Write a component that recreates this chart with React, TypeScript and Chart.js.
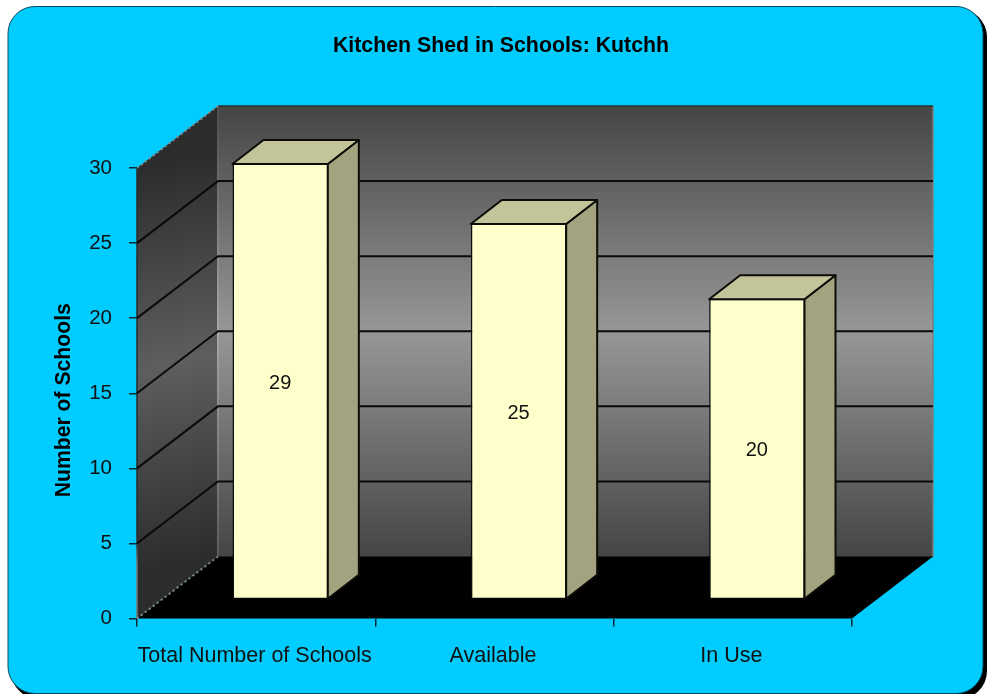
import React, { useEffect, useRef } from "react";
import { Chart, registerables } from "chart.js";

Chart.register(...registerables);

const chartTitle = "Kitchen Shed in Schools: Kutchh";
const yAxisTitle = "Number of Schools";
const categories = ["Total Number of Schools", "Available", "In Use"];
const schoolCounts = [29, 25, 20];

const FONT = '"Liberation Sans", Arial, sans-serif';
const WALL = { dx: 81, dy: 62 };
const BAR_SHIFT = { dx: 24, dy: 19 };
const BAR_DEPTH = { dx: 31, dy: 24 };

function roundRectPath(ctx: CanvasRenderingContext2D, x: number, y: number, w: number, h: number, r: number) {
  ctx.beginPath();
  ctx.roundRect(x, y, w, h, r);
}

const scene = {
  id: "scene3d",
  afterLayout(chart: any) {
    // centre the title on the whole panel rather than on the padded box
    if (chart.titleBlock) {
      chart.titleBlock.left = 0;
      chart.titleBlock.right = 1002;
    }
    // the axis title sits a little below the middle of the axis
    const ys = chart.scales.y;
    if (ys && !ys.__patched) {
      const orig = ys.drawTitle;
      ys.drawTitle = function () {
        this.ctx.save();
        this.ctx.translate(0, 7);
        orig.call(this);
        this.ctx.restore();
      };
      ys.__patched = true;
    }
  },
  beforeDraw(chart: any) {
    const { ctx, scales } = chart;
    const xs = scales.x;
    const ys = scales.y;
    const L = xs.left, R = xs.right;
    const y0 = ys.getPixelForValue(0);
    const yT = ys.getPixelForValue(30);

    ctx.save();
    ctx.fillStyle = "#ffffff";
    ctx.fillRect(0, 0, chart.width, chart.height);
    roundRectPath(ctx, 11, 9, 976, 690, 28);
    ctx.fillStyle = "#000000";
    ctx.fill();
    roundRectPath(ctx, 8, 6.5, 975, 687, 27);
    ctx.fillStyle = "#00CCFF";
    ctx.fill();
    ctx.lineWidth = 1;
    ctx.strokeStyle = "#0b4a5e";
    ctx.stroke();

    // back wall
    const backL = L + WALL.dx, backR = R + WALL.dx;
    const backT = yT - WALL.dy, backB = y0 - WALL.dy;
    const g = ctx.createLinearGradient(0, backT, 0, backB);
    g.addColorStop(0, "#454545");
    g.addColorStop(0.5, "#979797");
    g.addColorStop(1, "#454545");
    ctx.fillStyle = g;
    ctx.fillRect(backL, backT, backR - backL, backB - backT + 1);
    ctx.strokeStyle = "#7d7d7d";
    ctx.lineWidth = 1.5;
    ctx.beginPath();
    ctx.moveTo(backR, backT);
    ctx.lineTo(backR, backB);
    ctx.stroke();
    ctx.strokeStyle = "#2e2e2e";
    ctx.beginPath();
    ctx.moveTo(backL, backT);
    ctx.lineTo(backR, backT);
    ctx.stroke();

    // side wall
    const sg = ctx.createLinearGradient(L, yT, backL, y0 - WALL.dy);
    sg.addColorStop(0, "#2c2c2c");
    sg.addColorStop(0.5, "#5e5e5e");
    sg.addColorStop(1, "#2c2c2c");
    ctx.fillStyle = sg;
    ctx.beginPath();
    ctx.moveTo(L, yT);
    ctx.lineTo(backL, backT);
    ctx.lineTo(backL, backB);
    ctx.lineTo(L, y0);
    ctx.closePath();
    ctx.fill();
    const strip = ctx.createLinearGradient(0, backT, 0, backB);
    strip.addColorStop(0, "#4c4c4c");
    strip.addColorStop(0.5, "#a8a8a8");
    strip.addColorStop(1, "#5c5c5c");
    ctx.strokeStyle = strip;
    ctx.lineWidth = 2;
    ctx.beginPath();
    ctx.moveTo(backL, backT);
    ctx.lineTo(backL, backB);
    ctx.stroke();
    const edge = ctx.createLinearGradient(0, yT, 0, y0);
    edge.addColorStop(0, "#2a2a2a");
    edge.addColorStop(0.82, "#2a2a2a");
    edge.addColorStop(0.88, "#777777");
    edge.addColorStop(1, "#777777");
    ctx.strokeStyle = edge;
    ctx.lineWidth = 1.5;
    ctx.beginPath();
    ctx.moveTo(L, yT);
    ctx.lineTo(L, y0);
    ctx.stroke();

    // floor
    ctx.fillStyle = "#000000";
    ctx.beginPath();
    ctx.moveTo(L, y0);
    ctx.lineTo(R, y0);
    ctx.lineTo(backR, backB);
    ctx.lineTo(backL, backB);
    ctx.closePath();
    ctx.fill();

    // gridlines
    ctx.strokeStyle = "#0a0a0a";
    ctx.lineWidth = 2;
    for (const t of ys.ticks) {
      if (t.value === 0 || t.value === 30) continue;
      const py = ys.getPixelForValue(t.value);
      ctx.beginPath();
      ctx.moveTo(L, py);
      ctx.lineTo(backL, py - WALL.dy);
      ctx.lineTo(backR, py - WALL.dy);
      ctx.stroke();
    }

    // dotted wall edges
    ctx.strokeStyle = "#8a8a8a";
    ctx.lineWidth = 2;
    ctx.setLineDash([2, 3]);
    ctx.beginPath();
    ctx.moveTo(L, yT);
    ctx.lineTo(backL, backT);
    ctx.moveTo(L, y0);
    ctx.lineTo(backL, backB);
    ctx.stroke();
    ctx.restore();
  },
  beforeDatasetDraw(chart: any) {
    chart.ctx.save();
    chart.ctx.translate(BAR_SHIFT.dx, -BAR_SHIFT.dy);
  },
  afterDatasetDraw(chart: any) {
    const { ctx } = chart;
    const meta = chart.getDatasetMeta(0);
    ctx.lineWidth = 2;
    ctx.lineJoin = "round";
    ctx.strokeStyle = "#0c0c08";
    for (const el of meta.data) {
      const l = el.x - el.width / 2;
      const r = el.x + el.width / 2;
      const t = el.y;
      const b = el.base;
      ctx.fillStyle = "#A3A37F";
      ctx.beginPath();
      ctx.moveTo(r, t);
      ctx.lineTo(r + BAR_DEPTH.dx, t - BAR_DEPTH.dy);
      ctx.lineTo(r + BAR_DEPTH.dx, b - BAR_DEPTH.dy);
      ctx.lineTo(r, b);
      ctx.closePath();
      ctx.fill();
      ctx.stroke();
      ctx.fillStyle = "#C4C49B";
      ctx.beginPath();
      ctx.moveTo(l, t);
      ctx.lineTo(l + BAR_DEPTH.dx, t - BAR_DEPTH.dy);
      ctx.lineTo(r + BAR_DEPTH.dx, t - BAR_DEPTH.dy);
      ctx.lineTo(r, t);
      ctx.closePath();
      ctx.fill();
      ctx.stroke();
    }
    ctx.restore();
  },
  afterDatasetsDraw(chart: any) {
    const { ctx } = chart;
    const meta = chart.getDatasetMeta(0);
    ctx.save();
    ctx.fillStyle = "#111111";
    ctx.font = `20px ${FONT}`;
    ctx.textAlign = "center";
    ctx.textBaseline = "middle";
    meta.data.forEach((el: any, i: number) => {
      const cy = (el.y + el.base) / 2 - BAR_SHIFT.dy;
      ctx.fillText(String(schoolCounts[i]), el.x + BAR_SHIFT.dx, cy + 2);
    });
    ctx.restore();
  },
};

export default function App() {
  const ref = useRef<HTMLCanvasElement | null>(null);
  useEffect(() => {
    document.body.style.margin = "0";
    const chart = new Chart(ref.current as HTMLCanvasElement, {
      type: "bar",
      data: {
        labels: categories,
        datasets: [
          {
            data: schoolCounts,
            backgroundColor: "#FFFFCC",
            borderColor: "#0c0c08",
            borderWidth: { top: 1, left: 1.5, right: 1, bottom: 1 },
            borderSkipped: false,
            barPercentage: 0.4,
            categoryPercentage: 1,
          },
        ],
      },
      options: {
        responsive: false,
        animation: false,
        devicePixelRatio: 1,
        events: [],
        layout: { padding: { left: 0, top: 0, right: 136, bottom: 0 } },
        plugins: {
          legend: { display: false },
          tooltip: { enabled: false },
          title: {
            display: true,
            text: chartTitle,
            color: "#000000",
            font: { family: FONT, size: 21.3, weight: "bold", lineHeight: 1 },
            padding: { top: 35.5, bottom: 111.2 },
          },
        },
        scales: {
          x: {
            type: "category",
            offset: true,
            grid: {
              display: true,
              offset: true,
              drawOnChartArea: false,
              drawTicks: true,
              tickLength: 8,
              tickColor: "#0a2a36",
              lineWidth: 1.5,
            },
            border: { display: false },
            ticks: {
              color: "#111111",
              font: { family: FONT, size: 21.5 },
              padding: 16.5,
              labelOffset: -1.5,
              maxRotation: 0,
              autoSkip: false,
            },
            afterFit: (s: any) => {
              s.height = 75.5;
            },
          },
          y: {
            type: "linear",
            min: 0,
            max: 30,
            grid: {
              display: true,
              drawOnChartArea: false,
              drawTicks: true,
              tickLength: 8,
              tickColor: "#0a2a36",
              lineWidth: 1.5,
            },
            border: { display: false },
            ticks: {
              stepSize: 5,
              color: "#111111",
              font: { family: FONT, size: 20.5 },
              padding: 17,
            },
            title: {
              display: true,
              text: yAxisTitle,
              color: "#000000",
              font: { family: FONT, size: 21.2, weight: "bold", lineHeight: 1.2 },
              padding: { top: 51, bottom: 0 },
            },
            afterFit: (s: any) => {
              s.width = 137;
            },
          },
        },
      },
      plugins: [scene],
    } as any);
    return () => chart.destroy();
  }, []);
  return (
    <canvas
      ref={ref}
      width={988}
      height={694}
      style={{ display: "block", position: "absolute", left: 0, top: 0, width: 988, height: 694 }}
    />
  );
}
